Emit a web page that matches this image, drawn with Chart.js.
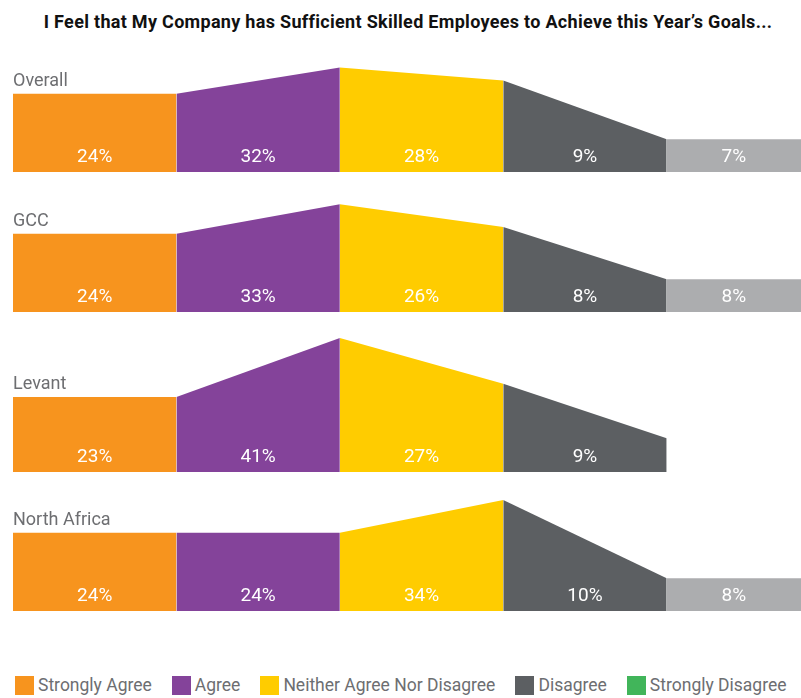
<!DOCTYPE html>
<html>
<head>
<meta charset="utf-8">
<script src="https://cdn.jsdelivr.net/npm/chart.js@4.4.1/dist/chart.umd.min.js"></script>
<style>
  body { margin:0; background:#fff; width:801px; height:698px; position:relative; overflow:hidden; font-family:Roboto, sans-serif; }
  #title { position:absolute; left:0; top:11px; width:801px; padding-left:15px; box-sizing:border-box; text-align:center; font-weight:bold; font-size:18px; letter-spacing:0.3px; color:#111; line-height:21px; }
  canvas { position:absolute; left:0; }
  #legend { position:absolute; left:15px; top:675px; width:786px; display:flex; font-size:17.5px; color:#6D6E71; white-space:nowrap; }
  .item { display:flex; align-items:center; margin-right:20px; flex-shrink:0; }
  .sw { width:19px; height:19px; margin-right:4px; flex-shrink:0; }
</style>
</head>
<body>
<div id="title">I Feel that My Company has Sufficient Skilled Employees to Achieve this Year’s Goals...</div>
<canvas id="c0" width="801" height="160"></canvas>
<canvas id="c1" width="801" height="160"></canvas>
<canvas id="c2" width="801" height="160"></canvas>
<canvas id="c3" width="801" height="160"></canvas>
<div id="legend"></div>
<script>
const segments = ['Strongly Agree', 'Agree', 'Neither Agree Nor Disagree', 'Disagree', 'Strongly Disagree'];
const segColors = ['#F7941E', '#84439A', '#FFCC00', '#5C5F62', '#ACADAF'];
const legendColors = ['#F7941E', '#84439A', '#FFCC00', '#5C5F62', '#41B55A'];

const regions = ['Overall', 'GCC', 'Levant', 'North Africa'];
// percentages shown in each segment
const overallValues = [24, 32, 28, 9, 7];
const gccValues = [24, 33, 26, 8, 8];
const levantValues = [23, 41, 27, 9, null];
const naValues = [24, 24, 34, 10, 8];
// heights of the outline at the segment boundaries
const overallEdges = [24, 24, 32, 28, 10, 10];
const gccEdges = [24, 24, 33, 26, 10, 10];
const levantEdges = [23, 23, 41, 27, 10.3];
const naEdges = [24, 24, 24, 34, 10, 10];

const allValues = [overallValues, gccValues, levantValues, naValues];
const allEdges = [overallEdges, gccEdges, levantEdges, naEdges];
const panelTops = [12, 152, 312, 451];

const X_MAX = 4.822;

const segLabels = {
  id: 'segLabels',
  afterDatasetsDraw(chart, args, opts) {
    const ctx = chart.ctx, xs = chart.scales.x, ys = chart.scales.y, area = chart.chartArea;
    ctx.save();
    ctx.font = '19px Roboto';
    ctx.fillStyle = '#fff';
    ctx.textAlign = 'center';
    ctx.textBaseline = 'alphabetic';
    opts.values.forEach((v, i) => {
      if (v == null) return;
      const mid = (i + Math.min(i + 1, X_MAX)) / 2;
      ctx.fillText(v + '%', xs.getPixelForValue(mid), area.bottom - 10);
    });
    ctx.font = '18px Roboto';
    ctx.fillStyle = '#6D6E71';
    ctx.textAlign = 'left';
    ctx.fillText(opts.name, area.left, ys.getPixelForValue(opts.edges[0]) - 8);
    ctx.restore();
  }
};

regions.forEach((name, r) => {
  const edges = allEdges[r];
  const vals = allValues[r];
  const datasets = [];
  vals.forEach((v, i) => {
    if (v == null) return;
    datasets.push({
      label: segments[i],
      data: [{ x: i, y: edges[i] }, { x: i + 1, y: edges[i + 1] }],
      backgroundColor: segColors[i],
      borderWidth: 0,
      pointRadius: 0,
      fill: 'origin',
      tension: 0
    });
  });
  const el = document.getElementById('c' + r);
  el.style.top = panelTops[r] + 'px';
  new Chart(el, {
    type: 'line',
    data: { datasets },
    plugins: [segLabels],
    options: {
      responsive: false,
      animation: false,
      devicePixelRatio: 1,
      layout: { padding: { left: 13, right: 0, top: 0, bottom: 0 } },
      plugins: {
        legend: { display: false },
        tooltip: { enabled: false },
        segLabels: { values: vals, edges: edges, name: name }
      },
      scales: {
        x: { type: 'linear', min: 0, max: X_MAX, display: false },
        y: { min: 0, max: 49, display: false }
      }
    }
  });
});

document.getElementById('legend').innerHTML = segments.map((s, i) => `
  <div class="item"><div class="sw" style="background:${legendColors[i]}"></div>${s}</div>
`).join('');
</script>
</body>
</html>
